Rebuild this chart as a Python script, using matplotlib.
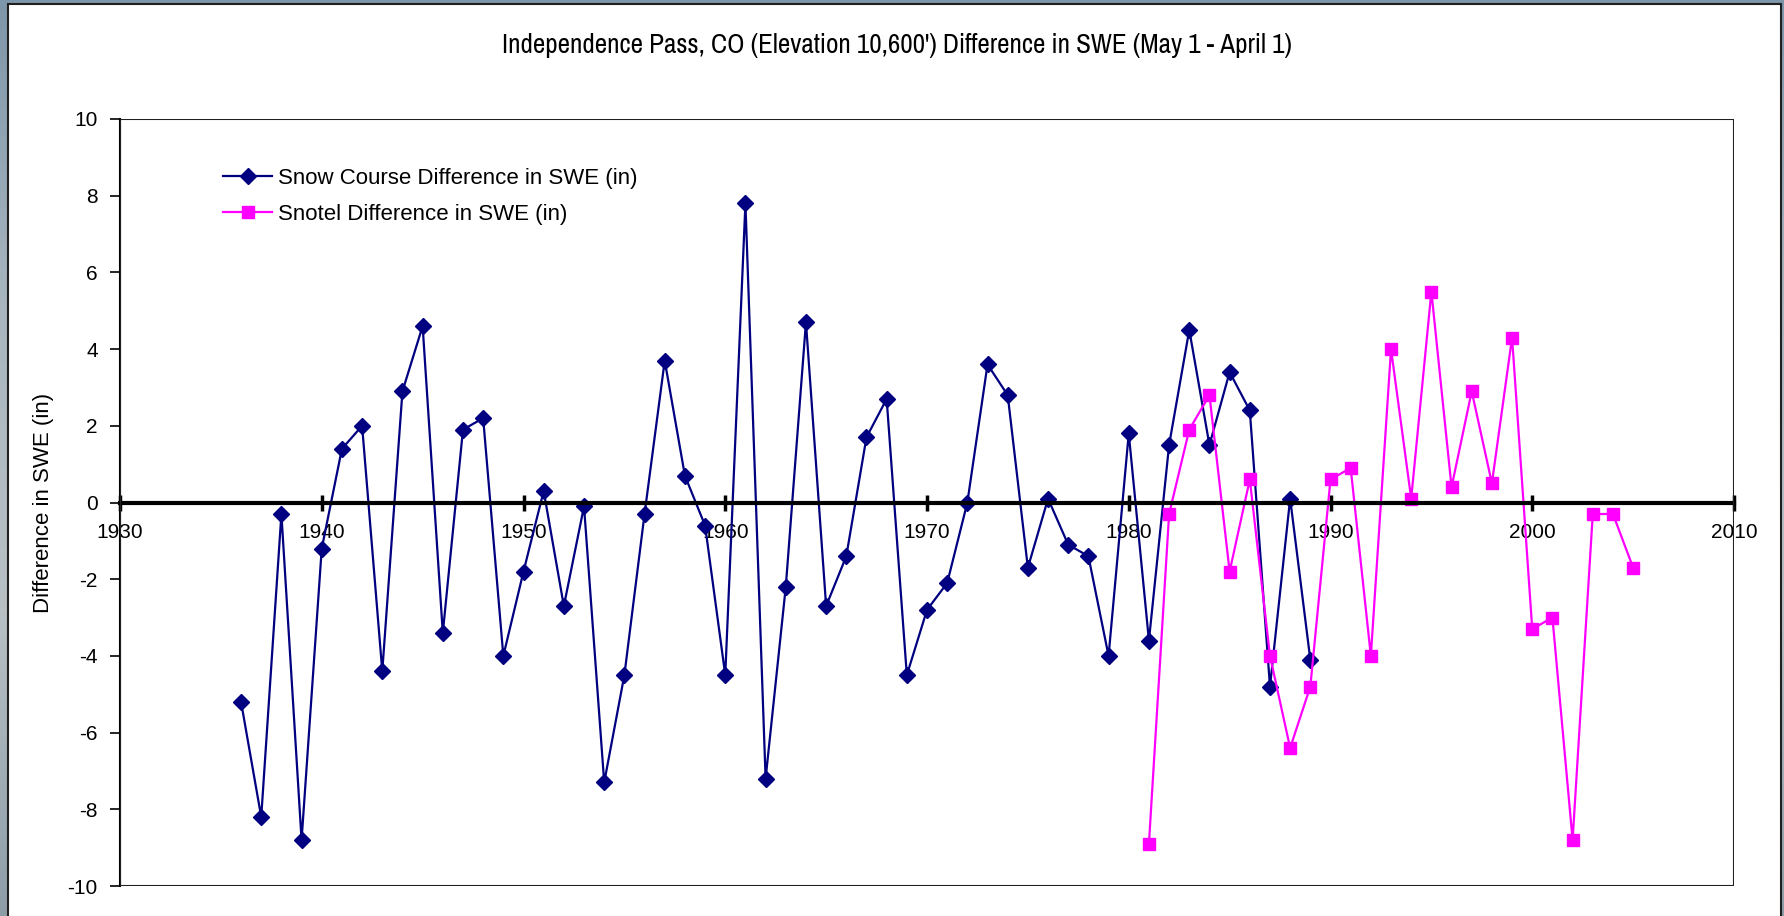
import numpy as np
import matplotlib.pyplot as plt
from matplotlib.colors import LinearSegmentedColormap
from matplotlib.patches import Rectangle

plt.rcParams['font.family'] = ['Liberation Sans', 'DejaVu Sans']
plt.rcParams['axes.unicode_minus'] = False

# snow course measurements, 1936-1989
course_years = list(range(1936, 1990))
course_diff = [-5.2, -8.2, -0.3, -8.8, -1.2, 1.4, 2.0, -4.4, 2.9, 4.6,
               -3.4, 1.9, 2.2, -4.0, -1.8, 0.3, -2.7, -0.1, -7.3, -4.5,
               -0.3, 3.7, 0.7, -0.6, -4.5, 7.8, -7.2, -2.2, 4.7, -2.7,
               -1.4, 1.7, 2.7, -4.5, -2.8, -2.1, 0.0, 3.6, 2.8, -1.7,
               0.1, -1.1, -1.4, -4.0, 1.8, -3.6, 1.5, 4.5, 1.5, 3.4,
               2.4, -4.8, 0.1, -4.1]

# snotel site, 1981-2005
snotel_years = list(range(1981, 2006))
snotel_diff = [-8.9, -0.3, 1.9, 2.8, -1.8, 0.6, -4.0, -6.4, -4.8, 0.6,
               0.9, -4.0, 4.0, 0.1, 5.5, 0.4, 2.9, 0.5, 4.3, -3.3,
               -3.0, -8.8, -0.3, -0.3, -1.7]

x_ticks = list(range(1930, 2011, 10))
y_ticks = list(range(-10, 11, 2))

W, H = 1784, 916
fig = plt.figure(figsize=(W / 100, H / 100), dpi=100)

# slate backdrop behind the white chart panel
bg = fig.add_axes([0, 0, 1, 1], zorder=-10)
grad = np.linspace(0, 1, 256).reshape(-1, 1)
bg_cmap = LinearSegmentedColormap.from_list(
    'bg', ['#7e96a9', '#a9b6bf', '#b8c0c4', '#8d9da8'])
bg.imshow(grad, aspect='auto', cmap=bg_cmap, extent=[0, 1, 0, 1])
bg.set_axis_off()
fig.patches.append(Rectangle((8 / W, -0.01), (1781 - 8) / W, 1 - 4 / H + 0.01,
                             transform=fig.transFigure, facecolor='white',
                             edgecolor='#202020', linewidth=1.5, zorder=-5))

ax = fig.add_axes([120 / W, 1 - 886 / H, (1734 - 120) / W, (886 - 119) / H])
ax.set_facecolor('none')

ax.plot(course_years, course_diff, color='#000080', linewidth=1.6,
        marker='D', markersize=8.5, label='Snow Course Difference in SWE (in)')
ax.plot(snotel_years, snotel_diff, color='#ff00ff', linewidth=1.6,
        marker='s', markersize=8, label='Snotel Difference in SWE (in)')

ax.set_xlim(1930, 2010)
ax.set_ylim(-10, 10)
ax.set_xticks(x_ticks)
ax.set_yticks(y_ticks)

# plot-area border, with the category axis crossing at zero
ax.add_patch(Rectangle((0, 0), 1, 1, transform=ax.transAxes, fill=False,
                       edgecolor='#202020', linewidth=1.5, zorder=5))
for s in ['top', 'right']:
    ax.spines[s].set_visible(False)
ax.spines['left'].set_linewidth(1.5)
ax.spines['bottom'].set_position(('data', 0))
ax.spines['bottom'].set_linewidth(3)
ax.tick_params(axis='x', direction='inout', length=12, width=2.5, pad=9,
               labelsize=15)
ax.tick_params(axis='y', direction='out', length=7, width=1.2, pad=9,
               labelsize=15)

ax.set_ylabel('Difference in SWE (in)', fontsize=16, labelpad=10)
fig.text(0.503, 1 - 45 / H,
         "Independence Pass, CO (Elevation 10,600') Difference in SWE (May 1 - April 1)",
         ha='center', va='center', fontsize=19.5,
         family=['Liberation Sans Narrow', 'Archivo Narrow', 'Liberation Sans'])

ax.legend(loc='upper left', bbox_to_anchor=(0.057, 0.951), frameon=False,
          fontsize=16, handlelength=2.2, handletextpad=0.25, borderpad=0,
          labelspacing=0.68)

fig.savefig('out.png', dpi=100)
